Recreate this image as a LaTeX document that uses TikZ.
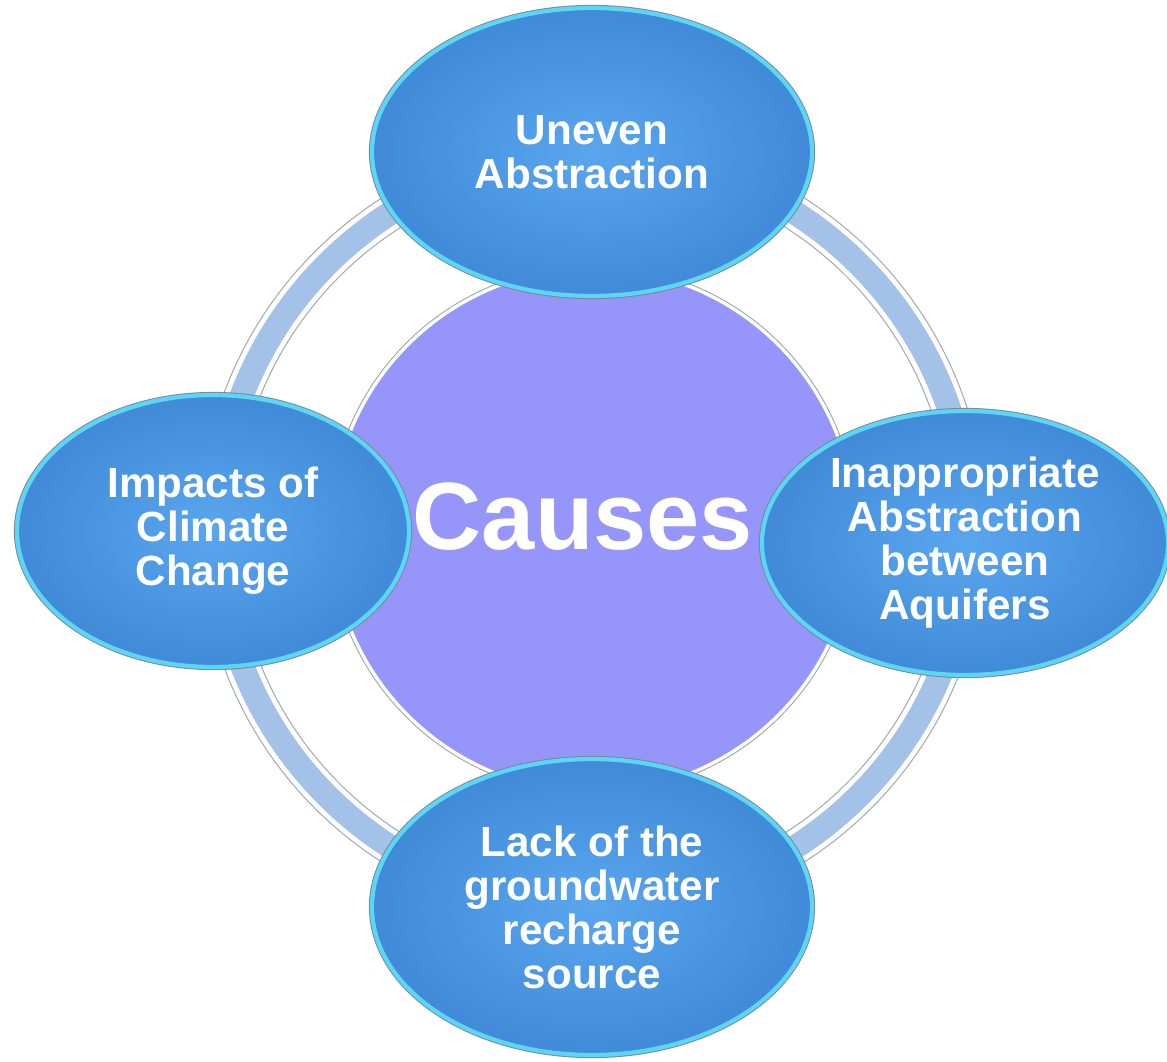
\documentclass[tikz,border=0pt]{standalone}
\usepackage{fontspec}
\setmainfont{Liberation Sans}
\usepackage{tikz}
\usetikzlibrary{shapes.geometric, shadows}
\definecolor{ovalblue}{RGB}{90,166,238}
\definecolor{ovaledge}{RGB}{64,138,216}
\definecolor{ovalrim}{RGB}{92,214,246}
\definecolor{corepurple}{RGB}{150,150,250}
\definecolor{ringblue}{RGB}{164,193,232}
\definecolor{rimgray}{RGB}{125,135,148}
\tikzset{
cause oval/.style = { ellipse, draw = ovalrim, line width = 3pt, inner color = ovalblue, outer color = ovaledge, text = white, align = center, inner sep = 0pt, font = \fontsize{30}{31.3}\selectfont\bfseries, drop shadow = {opacity = 0.18, shadow xshift = 0.04cm, shadow yshift = -0.07cm}, preaction = {draw = rimgray, line width = 4.4pt} },
core circle/.style = { circle, fill = corepurple, draw = white, line width = 2.4pt, minimum size = 13.1cm, preaction = {draw = rimgray!80, line width = 3.8pt} },
core text/.style = { text = white, inner sep = 0pt, font = \fontsize{68}{70}\selectfont\bfseries },
ring edge/.style = { draw = rimgray!70, line width = 0.9cm },
ring white/.style = { draw = white, line width = 0.84cm },
ring fill/.style = { draw = ringblue, line width = 0.6cm },
}
\begin{document}
\begin{tikzpicture}
    \useasboundingbox (0, 0) rectangle (29.175, -26.55);
    \node[core circle] (causes) at (14.825, -13.25) {};
    \draw[ring edge] (causes.center) circle (9.4);
    \draw[ring white] (causes.center) circle (9.4);
    \draw[ring fill] (causes.center) circle (9.4);
    \node[core text] (causes text) at ([xshift = -0.25cm, yshift = 0.325cm]causes.center) {Causes};
    \node[cause oval, minimum width = 11cm, minimum height = 7.2cm] (uneven) at (14.8, -3.8) {Uneven\\Abstraction};
    \node[cause oval, minimum width = 10.15cm, minimum height = 6.6cm] (inappropriate) at (24.125, -13.575) {Inappropriate\\Abstraction\\between\\Aquifers};
    \node[cause oval, minimum width = 11cm, minimum height = 7.4cm] (recharge) at (14.8, -22.675) {Lack of the\\groundwater\\recharge\\source};
    \node[cause oval, minimum width = 9.8cm, minimum height = 6.8cm] (climate) at (5.325, -13.275) {Impacts of\\Climate\\Change};
\end{tikzpicture}
\end{document}
